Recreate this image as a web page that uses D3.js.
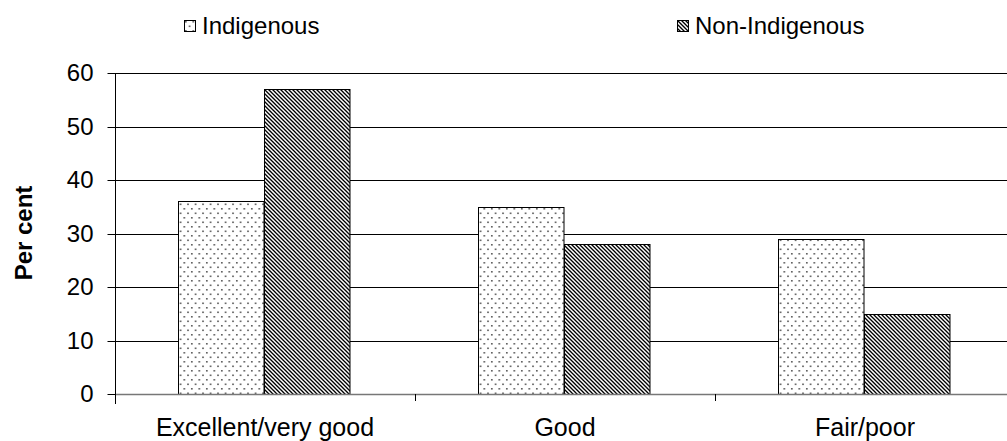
<!DOCTYPE html>
<html>
<head>
<meta charset="utf-8">
<script src="https://cdn.jsdelivr.net/npm/d3@7"></script>
<style>
  html, body { margin: 0; padding: 0; background: #fff; }
  svg { display: block; font-family: "Liberation Sans", Arial, sans-serif; }
</style>
</head>
<body>
<svg id="chart" width="1007" height="441"></svg>
<script>
// Self-assessed health status, per cent
const categories = ["Excellent/very good", "Good", "Fair/poor"];
const series = ["Indigenous", "Non-Indigenous"];
const indigenous = [36, 35, 29];
const nonIndigenous = [57, 28, 15];
const yTicks = [0, 10, 20, 30, 40, 50, 60];

const values = [indigenous, nonIndigenous];

const svg = d3.select("#chart");
const W = 1007;
const plotLeft = 115, plotRight = 1015, plotTop = 73, plotBottom = 394;
const fontSize = 24;

// Patterns: dotted fill and diagonal hatch
const defs = svg.append("defs");
const dots = defs.append("pattern")
  .attr("id", "pat-dots").attr("patternUnits", "userSpaceOnUse")
  .attr("width", 7.5).attr("height", 9);
dots.append("rect").attr("width", 7.5).attr("height", 9).attr("fill", "#fff");
dots.append("rect").attr("x", 1).attr("y", 1).attr("width", 1.6).attr("height", 1.6).attr("fill", "#555");
dots.append("rect").attr("x", 4.75).attr("y", 5.5).attr("width", 1.6).attr("height", 1.6).attr("fill", "#555");

const hatch = defs.append("pattern")
  .attr("id", "pat-hatch").attr("patternUnits", "userSpaceOnUse")
  .attr("width", 4).attr("height", 4);
hatch.append("rect").attr("width", 4).attr("height", 4).attr("fill", "#fff");
hatch.append("path")
  .attr("d", "M-1,-1 L5,5 M-1,3 L1,5 M3,-1 L5,1")
  .attr("stroke", "#000").attr("stroke-width", 1.35);

const fills = ["url(#pat-dots)", "url(#pat-hatch)"];

const x0 = d3.scaleBand().domain(categories).range([plotLeft, plotRight]);
const x1 = d3.scaleBand().domain(series).range([63, 234]);
const y = d3.scaleLinear().domain([0, 60]).range([plotBottom, plotTop]);

// Horizontal gridlines
svg.append("g").selectAll("line")
  .data(yTicks.filter(d => d > 0))
  .join("line")
  .attr("x1", plotLeft).attr("x2", W)
  .attr("y1", d => Math.round(y(d)) + 0.5).attr("y2", d => Math.round(y(d)) + 0.5)
  .attr("stroke", "#000").attr("stroke-width", 1);

// Bars
const groups = svg.append("g").selectAll("g")
  .data(categories)
  .join("g")
  .attr("transform", d => `translate(${x0(d)},0)`);

groups.selectAll("rect")
  .data((c, i) => series.map((s, j) => ({ s, v: values[j][i], j })))
  .join("rect")
  .attr("x", d => Math.round(x1(d.s)) + 0.5)
  .attr("y", d => Math.round(y(d.v)) + 0.5)
  .attr("width", x1.bandwidth())
  .attr("height", d => Math.round(y(0)) - Math.round(y(d.v)))
  .attr("fill", d => fills[d.j])
  .attr("stroke", "#000").attr("stroke-width", 1);

// X axis baseline and category ticks
svg.append("line")
  .attr("x1", plotLeft).attr("x2", W)
  .attr("y1", plotBottom + 0.5).attr("y2", plotBottom + 0.5)
  .attr("stroke", "#777").attr("stroke-width", 1.5);

svg.append("g").selectAll("line")
  .data(categories.slice(1))
  .join("line")
  .attr("x1", d => x0(d) + 0.5).attr("x2", d => x0(d) + 0.5)
  .attr("y1", plotBottom).attr("y2", plotBottom + 7)
  .attr("stroke", "#000");

svg.append("g").selectAll("text")
  .data(categories)
  .join("text")
  .attr("x", d => x0(d) + x0.bandwidth() / 2)
  .attr("y", 436)
  .attr("text-anchor", "middle")
  .attr("font-size", 25)
  .attr("fill", "#000")
  .text(d => d);

// Y axis
const yAxis = svg.append("g").attr("transform", `translate(${plotLeft + 0.5},0)`);
yAxis.append("line").attr("y1", plotTop).attr("y2", plotBottom + 10).attr("stroke", "#000");
yAxis.selectAll("line.tick")
  .data(yTicks)
  .join("line").attr("class", "tick")
  .attr("x1", -8).attr("x2", 0)
  .attr("y1", d => Math.round(y(d)) + 0.5).attr("y2", d => Math.round(y(d)) + 0.5)
  .attr("stroke", "#000");
yAxis.selectAll("text")
  .data(yTicks)
  .join("text")
  .attr("x", -22)
  .attr("y", d => y(d))
  .attr("dy", "0.35em")
  .attr("text-anchor", "end")
  .attr("font-size", fontSize)
  .text(d => d);

// Y axis title
svg.append("text")
  .attr("transform", "translate(32,233) rotate(-90)")
  .attr("text-anchor", "middle")
  .attr("font-size", fontSize)
  .attr("font-weight", "bold")
  .text("Per cent");

// Legend
const legendX = [184, 677];
const legend = svg.append("g").selectAll("g")
  .data(series)
  .join("g")
  .attr("transform", (d, i) => `translate(${legendX[i]},20)`);
legend.append("rect")
  .attr("x", 0.5).attr("y", 0.5).attr("width", 11).attr("height", 11)
  .attr("fill", (d, i) => fills[i])
  .attr("stroke", "#000");
legend.append("text")
  .attr("x", 18).attr("y", 14)
  .attr("font-size", fontSize)
  .text(d => d);
</script>
</body>
</html>
